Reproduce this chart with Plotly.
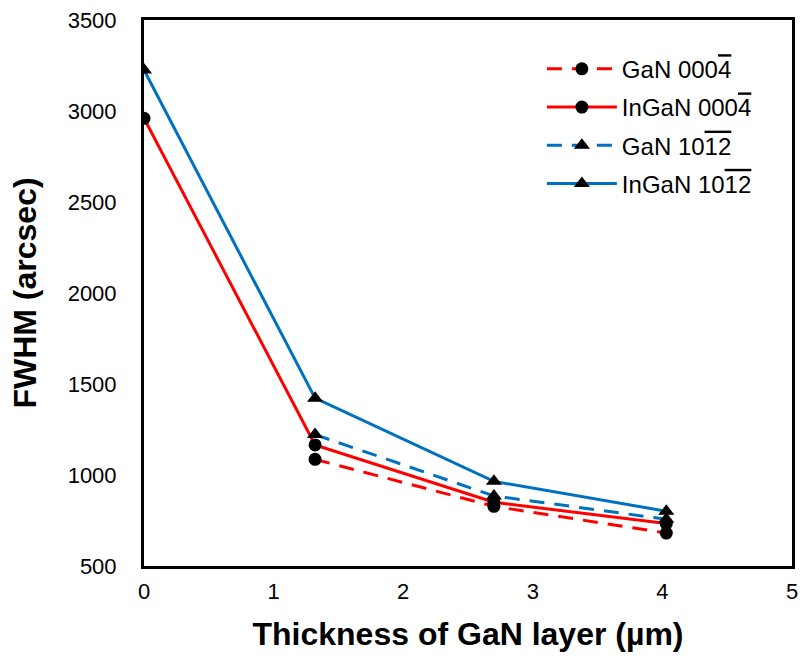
import plotly.graph_objects as go

thickness = [0, 1.32, 2.70, 4.03]
gan_0004 = [None, 1086, 828, 681]
ingan_0004 = [2960, 1165, 850, 733]
gan_1012 = [None, 1222, 885, 757]
ingan_1012 = [3225, 1422, 965, 801]

OL = "<span style='text-decoration:overline'>%s</span>"
names = ["GaN 000" + OL % "4", "InGaN 000" + OL % "4",
         "GaN 10" + OL % "1" + OL % "2", "InGaN 10" + OL % "1" + OL % "2"]
series = [gan_0004, ingan_0004, gan_1012, ingan_1012]
colors = ["#FF0000", "#FF0000", "#0070C0", "#0070C0"]
dashes = ["15px,10px", "solid", "15px,10px", "solid"]
symbols = ["circle", "circle", "triangle-up", "triangle-up"]

fig = go.Figure()
for i, (nm, ys, c, d, s) in enumerate(zip(names, series, colors, dashes, symbols)):
    fig.add_trace(go.Scatter(
        x=thickness, y=ys, name=nm, mode="lines+markers",
        line=dict(color=c, width=3, dash=d),
        marker=dict(symbol=s, color="black", size=13 if s == "circle" else 14),
        legendgroup=str(i),
    ))

fig.update_layout(
    width=806, height=661,
    margin=dict(l=144, r=8, t=17, b=95),
    plot_bgcolor="white", paper_bgcolor="white",
    font=dict(family="Liberation Sans, Arial, sans-serif", size=22, color="black"),
    showlegend=True,
    legend=dict(x=0.614, y=0.951, xanchor="left", yanchor="top", itemwidth=70,
                font=dict(size=24), tracegroupgap=4, bgcolor="rgba(0,0,0,0)"),
    xaxis=dict(range=[0, 5], dtick=1, showline=True, mirror=True, linecolor="black",
               linewidth=3, showgrid=False, zeroline=False, ticks="",
               ticklabelstandoff=4,
               title=dict(text="<b>Thickness of GaN layer (\u00b5m)</b>", font=dict(size=32), standoff=20)),
    yaxis=dict(range=[500, 3500], dtick=500, showline=True, mirror=True, linecolor="black",
               linewidth=3, showgrid=False, zeroline=False, ticks="",
               ticklabelstandoff=20,
               title=dict(text="<b>FWHM (arcsec)</b>", font=dict(size=32), standoff=22)),
)

fig.write_html("out.html")
